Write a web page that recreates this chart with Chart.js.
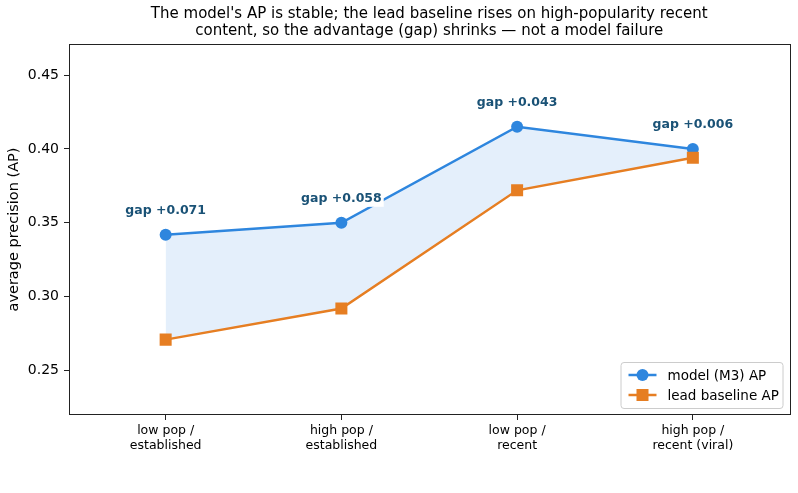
<!DOCTYPE html>
<html>
<head>
<meta charset="utf-8">
<title>AP gap by segment</title>
<script src="https://cdn.jsdelivr.net/npm/chart.js@4.4.1/dist/chart.umd.min.js"></script>
<style>
  html, body { margin: 0; padding: 0; background: #fff; }
  #wrap { width: 798px; height: 493px; }
</style>
</head>
<body>
<div id="wrap"><canvas id="apChart" width="798" height="493"></canvas></div>
<script>
"use strict";
// chart data
const categories = [
  ["low pop /", "established"],
  ["high pop /", "established"],
  ["low pop /", "recent"],
  ["high pop /", "recent (viral)"]
];
const modelAP = [0.342, 0.350, 0.415, 0.400];
const baselineAP = [0.271, 0.292, 0.372, 0.394];
const yTicks = [0.25, 0.30, 0.35, 0.40, 0.45];
const seriesNames = ["model (M3) AP", "lead baseline AP"];
const titleLines = [
  "The model's AP is stable; the lead baseline rises on high-popularity recent",
  "content, so the advantage (gap) shrinks \u2014 not a model failure"
];

const BLUE = "#2e86de";
const ORANGE = "#e67e22";
const LABEL_BLUE = "#1a5276";
const FONT = "'DejaVu Sans', 'Liberation Sans', sans-serif";

Chart.defaults.font.family = FONT;
Chart.defaults.color = "#000";

const toPoints = function (arr) {
  return arr.map((v, i) => ({ x: i, y: v }));
};

// draw a marker like the plot's (circle / square)
const drawMarker = function (ctx, kind, x, y, color) {
  ctx.fillStyle = color;
  if (kind === "circle") {
    ctx.beginPath();
    ctx.arc(x, y, 6, 0, Math.PI * 2);
    ctx.fill();
  } else {
    ctx.fillRect(x - 6, y - 6, 12, 12);
  }
};

// title, frame, gap labels and legend
const decorPlugin = {
  id: "decor",
  afterDatasetsDraw(chart) {
    const ctx = chart.ctx;
    const xs = chart.scales.x;
    const ys = chart.scales.y;
    ctx.save();
    ctx.font = "bold 12.5px " + FONT;
    ctx.textAlign = "center";
    ctx.textBaseline = "middle";
    for (let i = 0; i < modelAP.length; i++) {
      const gap = modelAP[i] - baselineAP[i];
      const txt = "gap +" + gap.toFixed(3);
      const px = xs.getPixelForValue(i);
      const py = ys.getPixelForValue(modelAP[i]) - 24;
      const w = ctx.measureText(txt).width;
      ctx.fillStyle = "#fff";
      ctx.fillRect(px - w / 2 - 2, py - 8, w + 4, 16);
      ctx.fillStyle = LABEL_BLUE;
      ctx.fillText(txt, px, py);
    }
    ctx.restore();
  },
  afterDraw(chart) {
    const ctx = chart.ctx;
    const ca = chart.chartArea;
    ctx.save();

    // frame
    ctx.strokeStyle = "#222";
    ctx.lineWidth = 1;
    ctx.strokeRect(Math.round(ca.left) + 0.5, Math.round(ca.top) + 0.5,
      Math.round(ca.right - ca.left), Math.round(ca.bottom - ca.top) - 1);

    // title centred over the axes
    ctx.fillStyle = "#000";
    ctx.font = "15px " + FONT;
    ctx.textAlign = "center";
    ctx.textBaseline = "middle";
    const cx = (ca.left + ca.right) / 2;
    ctx.fillText(titleLines[0], cx, 14);
    ctx.fillText(titleLines[1], cx, 31);

    // legend, lower right
    const bw = 162, bh = 46;
    const bx = ca.right - 7 - bw;
    const by = ca.bottom - 7 - bh;
    ctx.beginPath();
    ctx.roundRect(bx + 0.5, by + 0.5, bw, bh, 3);
    ctx.fillStyle = "rgba(255,255,255,0.85)";
    ctx.fill();
    ctx.strokeStyle = "#cccccc";
    ctx.stroke();

    const colors = [BLUE, ORANGE];
    const kinds = ["circle", "square"];
    ctx.font = "13.5px " + FONT;
    ctx.textAlign = "left";
    for (let i = 0; i < seriesNames.length; i++) {
      const ry = by + 13 + i * 20;
      ctx.strokeStyle = colors[i];
      ctx.lineWidth = 2.5;
      ctx.beginPath();
      ctx.moveTo(bx + 8, ry);
      ctx.lineTo(bx + 36, ry);
      ctx.stroke();
      drawMarker(ctx, kinds[i], bx + 22, ry, colors[i]);
      ctx.fillStyle = "#000";
      ctx.fillText(seriesNames[i], bx + 47, ry + 1);
    }
    ctx.restore();
  }
};

const ctx = document.getElementById("apChart").getContext("2d");

new Chart(ctx, {
  type: "line",
  data: {
    datasets: [
      {
        label: seriesNames[0],
        data: toPoints(modelAP),
        borderColor: BLUE,
        backgroundColor: "rgba(46,134,222,0.13)",
        fill: 1,
        borderWidth: 2.5,
        pointRadius: 6,
        pointStyle: "circle",
        pointBackgroundColor: BLUE,
        pointBorderWidth: 0,
        tension: 0,
        order: 1
      },
      {
        label: seriesNames[1],
        data: toPoints(baselineAP),
        borderColor: ORANGE,
        backgroundColor: ORANGE,
        fill: false,
        borderWidth: 2.5,
        pointRadius: 8.5,
        pointStyle: "rect",
        pointBackgroundColor: ORANGE,
        pointBorderWidth: 0,
        tension: 0,
        order: 0
      }
    ]
  },
  options: {
    responsive: false,
    animation: false,
    devicePixelRatio: 1,
    layout: { padding: { top: 44, right: 7, left: 0, bottom: 0 } },
    plugins: {
      legend: { display: false },
      tooltip: { enabled: false },
      title: { display: false },
      filler: { drawTime: "beforeDatasetsDraw" }
    },
    scales: {
      x: {
        type: "linear",
        min: -0.55,
        max: 3.55,
        afterBuildTicks: function (scale) {
          scale.ticks = categories.map((c, i) => ({ value: i }));
        },
        afterFit: function (scale) {
          scale.height = 78;
        },
        ticks: {
          autoSkip: false,
          maxRotation: 0,
          padding: 4,
          font: { size: 12.5, lineHeight: 1.15 },
          color: "#000",
          callback: function (v) {
            return categories[v];
          }
        },
        grid: {
          drawOnChartArea: false,
          drawTicks: true,
          tickLength: 5,
          color: "#222"
        },
        border: { display: false }
      },
      y: {
        type: "linear",
        min: 0.22,
        max: 0.471,
        afterBuildTicks: function (scale) {
          scale.ticks = yTicks.map((v) => ({ value: v }));
        },
        afterFit: function (scale) {
          scale.width = 69;
        },
        ticks: {
          padding: 5,
          font: { size: 14 },
          color: "#000",
          callback: function (v) {
            return v.toFixed(2);
          }
        },
        grid: {
          drawOnChartArea: false,
          drawTicks: true,
          tickLength: 5,
          color: "#222"
        },
        border: { display: false },
        title: {
          display: true,
          text: "average precision (AP)",
          font: { size: 14.5 },
          color: "#000",
          padding: { top: 6, bottom: 0 }
        }
      }
    }
  },
  plugins: [decorPlugin]
});
</script>
</body>
</html>
